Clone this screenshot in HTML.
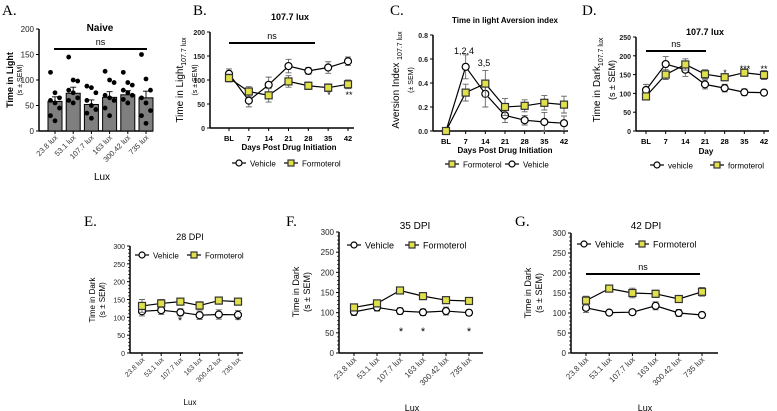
<!DOCTYPE html>
<html><head><meta charset="utf-8">
<style>
html,body{margin:0;padding:0;background:#fff;}
svg{display:block;font-family:"Liberation Sans",Arial,sans-serif;}
.pl{font-family:"Liberation Serif",serif;font-size:15px;}
</style></head>
<body>
<svg id="fig" width="777" height="411" viewBox="0 0 777 411">
<text class="pl" x="2" y="15">A.</text>
<text class="pl" x="193" y="15">B.</text>
<text class="pl" x="390" y="15">C.</text>
<text class="pl" x="582" y="15">D.</text>
<text class="pl" x="84" y="226">E.</text>
<text class="pl" x="286" y="226">F.</text>
<text class="pl" x="515" y="226">G.</text>
</svg>
<script>
// ---- data ----
const luxCats = ["23.8 lux","53.1 lux","107.7 lux","163 lux","300.42 lux","735 lux"];
const dayCats = ["BL","7","14","21","28","35","42"];
const aMeans = [58,74,52,66,71,65];
const aErr = [9,12,9,11,8,13];
const aPts0 = [115,75,65,60,55,45,30,20];
const aPts1 = [145,100,98,80,75,65,60,55];
const aPts2 = [88,85,75,60,50,42,35,25];
const aPts3 = [117,100,95,70,65,60,45,30];
const aPts4 = [115,95,90,80,75,70,62,55];
const aPts5 = [150,102,80,65,55,40,30,15];
const bVeh = [113,57,90,129,119,126,139];
const bVehErr = [10,13,16,14,7,12,9];
const bForm = [104,76,68,97,88,84,91];
const bFormErr = [8,10,14,12,8,8,9];
const cVeh = [0,0.535,0.31,0.13,0.09,0.075,0.065];
const cVehErr = [0,0.1,0.11,0.06,0.04,0.08,0.06];
const cForm = [0,0.32,0.395,0.2,0.21,0.235,0.22];
const cFormErr = [0,0.07,0.11,0.07,0.05,0.06,0.07];
const dVeh = [109,178,163,124,114,103,102];
const dVehErr = [15,20,18,12,10,9,7];
const dForm = [92,150,177,151,143,155,149];
const dFormErr = [7,13,15,12,9,7,12];
const eVeh = [117,120,114,106,108,107];
const eVehErr = [13,12,10,12,13,12];
const eForm = [132,139,144,133,147,144];
const eFormErr = [18,11,8,11,10,8];
const fVeh = [102,113,104,101,104,100];
const fVehErr = [9,9,8,8,10,7];
const fForm = [113,123,155,141,131,129];
const fFormErr = [6,6,6,5,8,7];
const gVeh = [113,101,102,118,100,95];
const gVehErr = [12,6,6,10,9,7];
const gForm = [131,161,150,148,135,153];
const gFormErr = [11,8,12,9,7,11];

const NS='http://www.w3.org/2000/svg';
const svg=document.getElementById('fig');
function el(tag,attrs,parent){const e=document.createElementNS(NS,tag);for(const k in attrs)e.setAttribute(k,attrs[k]);(parent||svg).appendChild(e);return e;}
function txt(s,x,y,size,opts,parent){const t=el('text',Object.assign({x:x,y:y,'font-size':size},opts||{}),parent);t.textContent=s;return t;}
const FY='#e0e04a';

function axes(p){
  const g=el('g',{});
  
  
  const ys=v=>p.y0+(v-p.ymin)/(p.ymax-p.ymin)*(p.y1-p.y0);
  el('line',{x1:p.ax,y1:p.y0,x2:p.ax,y2:p.y1,stroke:'#000','stroke-width':1.5},g);
  el('line',{x1:p.ax,y1:p.y0,x2:p.axEnd,y2:p.y0,stroke:'#000','stroke-width':1.5},g);
  for(let v=p.ymin;v<=p.ymax+1e-9;v+=p.ystep){
    const y=ys(v);
    el('line',{x1:p.ax-3,y1:y,x2:p.ax,y2:y,stroke:'#000'},g);
    const t=txt(p.fmt?p.fmt(v):String(v),p.ax-5,y+3,p.tfs,{'text-anchor':'end','font-weight':p.bold?'bold':'normal',fill:'#222'},g);
    
    
    if(p.minor&&v<p.ymax){for(let k=1;k<5;k++){const ym=ys(v+p.ystep*k/5);el('line',{x1:p.ax-2,y1:ym,x2:p.ax,y2:ym,stroke:'#000','stroke-width':0.7},g);}}
  }
  p.xs.forEach((x,i)=>{
    el('line',{x1:x,y1:p.y0,x2:x,y2:p.y0+3,stroke:'#000'},g);
    let t;
    if(p.rot){t=txt(p.cats[i],x+3,p.y0+7,p.xfs,{'text-anchor':'end',transform:'rotate(-45 '+(x+3)+' '+(p.y0+7)+')',fill:'#333'},g);}
    else{t=txt(p.cats[i],x,p.y0+13,p.xfs,{'text-anchor':'middle','font-weight':'bold'},g);}
    
    
  });
  return ys;
}
function series(p,ys,vals,errs,kind,name){
  const g=el('g',{});
  
  
  el('polyline',{points:vals.map((v,i)=>p.xs[i]+','+ys(v)).join(' '),fill:'none',stroke:'#000','stroke-width':1.2},g);
  vals.forEach((v,i)=>{
    const x=p.xs[i],y=ys(v);
    const e=el('path',{d:`M${x},${ys(v-errs[i])}V${ys(v+errs[i])}M${x-3},${ys(v+errs[i])}h6M${x-3},${ys(v-errs[i])}h6`,stroke:'#666','stroke-width':0.9,fill:'none'},g);
    
    
    let m;
    if(kind==='c') m=el('circle',{cx:x,cy:y,r:p.ms,fill:'#fff',stroke:'#000','stroke-width':1.2},g);
    else m=el('rect',{x:x-p.ms,y:y-p.ms,width:2*p.ms,height:2*p.ms,fill:FY,stroke:'#333','stroke-width':1.2},g);
    
    
  });
}
function legendItem(x,y,kind,label,fs,name){
  const g=el('g',{});
  
  
  el('line',{x1:x,y1:y,x2:x+14,y2:y,stroke:'#000','stroke-width':1.2},g);
  if(kind==='c')el('circle',{cx:x+7,cy:y,r:3,fill:'#fff',stroke:'#000','stroke-width':1.2},g);
  else el('rect',{x:x+4,y:y-3,width:6,height:6,fill:FY,stroke:'#333','stroke-width':1.2},g);
  txt(label,x+18,y+3.5,fs,{},g);
}
function ylab(lines,x,y,name){
  const t=el('text',{transform:`translate(${x},${y}) rotate(-90)`,'text-anchor':'middle'});
  
  
  lines.forEach(l=>{const s=el('tspan',{x:0,dy:l.dy,'font-size':l.fs,'font-weight':l.bold?'bold':'normal'},t);s.textContent=l.t;if(l.sub){const u=el('tspan',{'font-size':l.sub[1],dy:3},s);u.textContent=l.sub[0];}});
}
function sigbar(x1,x2,y,name){const l=el('line',{x1:x1,y1:y,x2:x2,y2:y,stroke:'#000','stroke-width':2});const t=txt('ns',(x1+x2)/2,y-4,9,{'text-anchor':'middle'});}
function star(s,x,y,fs){const t=txt(s,x,y,fs||9,{'text-anchor':'middle'});}
function lin(a,b,n){return Array.from({length:n},(_,i)=>a+(b-a)*i/(n-1));}

// ---- Panel A ----
const pA={name:'panel-a',ax:39,axEnd:153,y0:131,y1:29,ymin:0,ymax:200,ystep:50,tfs:8,bold:false,xs:lin(55,146,6),cats:luxCats,rot:true,xfs:7.5};
const ysA=axes(pA);
const aPts=[aPts0,aPts1,aPts2,aPts3,aPts4,aPts5];
aMeans.forEach((v,i)=>{
  const x=pA.xs[i];
  const b=el('rect',{x:x-7,y:ysA(v),width:14,height:pA.y0-ysA(v),fill:'#7f7f7f',stroke:'#000','stroke-width':1});
  
  
  el('path',{d:`M${x},${ysA(v)}V${ysA(v+aErr[i])}M${x-3},${ysA(v+aErr[i])}h6`,stroke:'#000','stroke-width':0.9});
  aPts[i].forEach((p,j)=>{const d=el('circle',{cx:x+((j%3)-1)*4.5,cy:ysA(p),r:2.4,fill:'#000'});});
});
txt('Naive',100,31,10,{'text-anchor':'middle','font-weight':'bold'});
sigbar(54,147,49,'ns-bar-a');
txt('Lux',102,180,10,{'text-anchor':'middle'});
ylab([{t:'Time in Light',fs:9,bold:true,dy:0},{t:'(s ± SEM)',fs:7,dy:9}],13,80,'y-axis-title-a');

// ---- Panel B ----
const pB={name:'panel-b',ax:210,axEnd:354,y0:128,y1:32,ymin:0,ymax:200,ystep:50,tfs:7,bold:true,xs:lin(229,348,7),cats:dayCats,xfs:7.5,ms:3.5};
const ysB=axes(pB);
series(pB,ysB,bVeh,bVehErr,'c','vehicle-series-b');
series(pB,ysB,bForm,bFormErr,'s','formoterol-series-b');
txt('107.7 lux',290,20,9,{'text-anchor':'middle','font-weight':'bold'});
sigbar(229,315,43,'ns-bar-b');
star('*',329,98);star('**',349,98);
txt('Days Post Drug Initiation',289,150,8,{'text-anchor':'middle','font-weight':'bold'});
ylab([{t:'Time in Light',fs:10,dy:0,sub:['107.7 lux',7]},{t:'(s ± SEM)',fs:7,dy:11}],183,80,'y-axis-title-b');
legendItem(232,163,'c','Vehicle',8,'legend-vehicle-b');
legendItem(284,163,'s','Formoterol',8,'legend-formoterol-b');

// ---- Panel C ----
const pC={name:'panel-c',ax:433,axEnd:568,y0:131,y1:35,ymin:0,ymax:0.8,ystep:0.2,tfs:7,bold:true,fmt:v=>v.toFixed(1),xs:lin(446,564,7),cats:dayCats,xfs:7.5,ms:3.5};
const ysC=axes(pC);
series(pC,ysC,cVeh,cVehErr,'c','vehicle-series-c');
series(pC,ysC,cForm,cFormErr,'s','formoterol-series-c');
txt('Time in light Aversion index',505,23,8,{'text-anchor':'middle','font-weight':'bold'});
star('1,2,4',464,54);star('3,5',484,66);
txt('Days Post Drug Initiation',505,153,8,{'text-anchor':'middle','font-weight':'bold'});
ylab([{t:'Aversion Index ',fs:10,dy:0,sub:['107.7 lux',7]},{t:'(± SEM)',fs:7,dy:11}],399,80,'y-axis-title-c');
legendItem(445,164,'s','Formoterol',8,'legend-formoterol-c');
legendItem(505,164,'c','Vehicle',8,'legend-vehicle-c');

// ---- Panel D ----
const pD={name:'panel-d',ax:636,axEnd:769,y0:131,y1:37,ymin:0,ymax:250,ystep:50,tfs:7,bold:true,xs:lin(646,764,7),cats:dayCats,xfs:7.5,ms:3.5};
const ysD=axes(pD);
series(pD,ysD,dVeh,dVehErr,'c','vehicle-series-d');
series(pD,ysD,dForm,dFormErr,'s','formoterol-series-d');
txt('107.7 lux',705,35,9,{'text-anchor':'middle','font-weight':'bold'});
sigbar(646,706,51,'ns-bar-d');
star('*',725,76);star('***',745,72);star('**',764,72);
txt('Day',706,154,8,{'text-anchor':'middle','font-weight':'bold'});
ylab([{t:'Time in Dark',fs:10,dy:0,sub:['107.7 lux',7]},{t:'(s ± SEM)',fs:9,dy:12}],600,80,'y-axis-title-d');
legendItem(650,165,'c','vehicle',8,'legend-vehicle-d');
legendItem(710,165,'s','formoterol',8,'legend-formoterol-d');

// ---- Panels E,F,G ----
function bottom(name,ax,axEnd,y1,xs,veh,vehE,form,formE,fs){
  const p={name:name,ax:ax,axEnd:axEnd,y0:353,y1:y1,ymin:0,ymax:300,ystep:50,tfs:fs,xs:xs,cats:luxCats,rot:true,xfs:fs,minor:true,ms:3.5};
  const ys=axes(p);
  series(p,ys,veh,vehE,'c','vehicle-series-'+name);
  series(p,ys,form,formE,'s','formoterol-series-'+name);
  return ys;
}
bottom('panel-e',130,243,246,lin(142,238,6),eVeh,eVehErr,eForm,eFormErr,7);
txt('28 DPI',190,240,9,{'text-anchor':'middle'});
star('*',180,324,11);star('*',238,324,11);
txt('Lux',190,405,8,{'text-anchor':'middle'});
ylab([{t:'Time in Dark',fs:8,dy:0},{t:'(s ± SEM)',fs:8,dy:10}],95,300,'y-axis-title-e');
legendItem(135,255,'c','Vehicle',8,'legend-vehicle-e');
legendItem(187,255,'s','Formoterol',8,'legend-formoterol-e');

bottom('panel-f',339,483,232,lin(354,469,6),fVeh,fVehErr,fForm,fFormErr,8);
txt('35 DPI',415,229,10,{'text-anchor':'middle'});
star('*',401,335,11);star('*',423,335,11);star('*',469,335,11);
txt('Lux',412,411,9,{'text-anchor':'middle'});
ylab([{t:'Time in Dark',fs:9,dy:0},{t:'(s ± SEM)',fs:9,dy:11}],299,292,'y-axis-title-f');
legendItem(347,245,'c','Vehicle',9,'legend-vehicle-f');
legendItem(405,245,'s','Formoterol',9,'legend-formoterol-f');

bottom('panel-g',571,718,233,lin(586,702,6),gVeh,gVehErr,gForm,gFormErr,8);
txt('42 DPI',646,229,10,{'text-anchor':'middle'});
sigbar(586,700,274,'ns-bar-g');
txt('Lux',645,411,9,{'text-anchor':'middle'});
ylab([{t:'Time in Dark',fs:9,dy:0},{t:'(s ± SEM)',fs:9,dy:11}],531,293,'y-axis-title-g');
legendItem(577,244,'c','Vehicle',9,'legend-vehicle-g');
legendItem(635,244,'s','Formoterol',9,'legend-formoterol-g');
</script>
</body></html>
